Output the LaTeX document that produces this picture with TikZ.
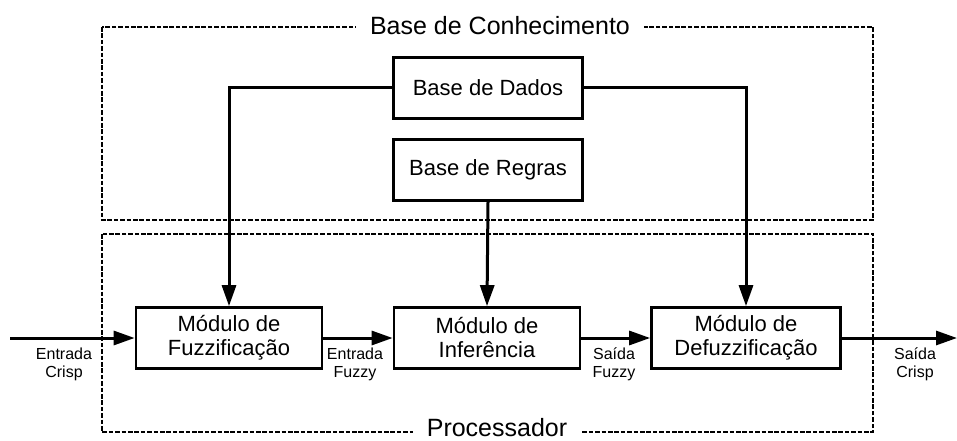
\documentclass[tikz,border=0pt]{standalone}
\usepackage{fontspec}
\setmainfont{Liberation Sans}
\usetikzlibrary{arrows.meta}
\begin{document}
\begin{tikzpicture}[x=1pt,y=-1pt,
  block/.style={draw,line width=2.7pt,minimum width=188pt,minimum height=61pt,
    align=center,font=\fontsize{22}{24}\selectfont,inner sep=0pt},
  group/.style={draw,line width=2.6pt,dash pattern=on 4.6pt off 1.8pt},
  grouplabel/.style={fill=white,inner xsep=14pt,inner ysep=0pt,font=\fontsize{25}{28}\selectfont},
  flow/.style={line width=3pt,-{Triangle[length=21pt,width=14pt]}},
  sig/.style={align=center,font=\fontsize{16}{18}\selectfont,inner sep=0pt}]
\useasboundingbox (0,0) rectangle (957,441);

% dashed groups
\draw[group] (102,27) rectangle (873,220);
\draw[group] (102,234) rectangle (873,432);
\node[grouplabel] (kb) at (500,26) {Base de Conhecimento};
\node[grouplabel] (proc) at (497,428) {Processador};

% blocks
\node[block,minimum width=189pt] (dados) at (488,88) {Base de Dados};
\node[block,minimum width=189pt] (regras) at (488,170) {Base de Regras};
\node[block,minimum width=186pt] (fuzz) at (229,338) {Módulo de\\Fuzzificação};
\node[block,minimum width=186pt] (inf) at (487,338) {Módulo de\\Inferência};
\node[block,minimum width=189pt] (defuzz) at (746,338) {Módulo de\\Defuzzificação};

\coordinate (in) at (10,338);
\coordinate (out) at (957,338);

% connectors
\draw[flow] (dados.west) -| (fuzz.north);
\draw[flow] (dados.east) -| (defuzz.north);
\draw[flow] (regras.south) -- (inf.north);
\draw[flow] (in) -- (fuzz.west);
\draw[flow] (fuzz.east) -- (inf.west);
\draw[flow] (inf.east) -- (defuzz.west);
\draw[flow] (defuzz.east) -- (out);

% signal labels
\node[sig] (l1) at (64,364) {Entrada\\Crisp};
\node[sig] (l2) at (355,364) {Entrada\\Fuzzy};
\node[sig] (l3) at (614,364) {Saída\\Fuzzy};
\node[sig] (l4) at (915,364) {Saída\\Crisp};
\end{tikzpicture}
\end{document}
